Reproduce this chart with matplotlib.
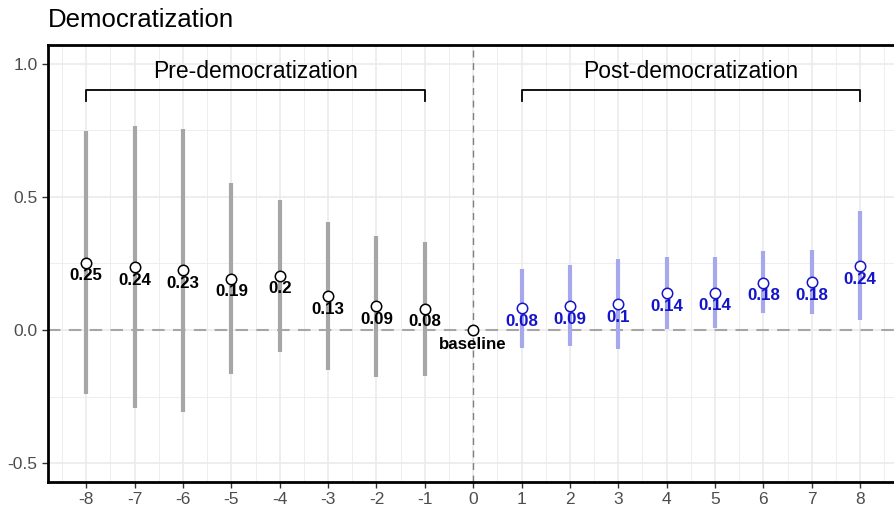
import matplotlib
matplotlib.use('Agg')
import matplotlib.pyplot as plt
import numpy as np

plt.rcParams['font.family'] = ['Liberation Sans', 'DejaVu Sans']

# ── data ──────────────────────────────────────────────────────────────────────
pre_t    = [-8, -7, -6, -5, -4, -3, -2, -1]
pre_est  = [0.253, 0.236, 0.225, 0.193, 0.204, 0.127, 0.089, 0.080]
pre_lo   = [-0.242, -0.292, -0.307, -0.167, -0.083, -0.152, -0.175, -0.172]
pre_hi   = [0.747, 0.764, 0.754, 0.552, 0.488, 0.404, 0.351, 0.329]
pre_lab  = ['0.25', '0.24', '0.23', '0.19', '0.2', '0.13', '0.09', '0.08']

post_t   = [1, 2, 3, 4, 5, 6, 7, 8]
post_est = [0.081, 0.090, 0.096, 0.138, 0.140, 0.178, 0.179, 0.240]
post_lo  = [-0.066, -0.060, -0.073, 0.003, 0.006, 0.062, 0.058, 0.037]
post_hi  = [0.230, 0.243, 0.265, 0.275, 0.273, 0.295, 0.300, 0.445]
post_lab = ['0.08', '0.09', '0.1', '0.14', '0.14', '0.18', '0.18', '0.24']

base_t, base_est = 0, 0.0

PRE_COL   = '#a6a6a6'
POST_BAR  = '#a7a7ec'
POST_COL  = '#1414c8'
GRID      = '#ebebeb'

# ── plot ──────────────────────────────────────────────────────────────────────
fig = plt.figure(figsize=(8.95, 5.09), dpi=100)
ax = fig.add_axes([48 / 895, 1 - 482 / 509, 1 - 48 / 895, 437 / 509])

# grid (ggplot-ish major + minor)
for x in np.arange(-8.5, 9, 1.0):
    ax.axvline(x, color=GRID, lw=0.6, zorder=0)
for x in range(-8, 9):
    ax.axvline(x, color=GRID, lw=1.2, zorder=0)
for y in [-0.25, 0.25, 0.75]:
    ax.axhline(y, color=GRID, lw=0.6, zorder=0)
for y in [-0.5, 0.0, 0.5, 1.0]:
    ax.axhline(y, color=GRID, lw=1.2, zorder=0)

# reference lines
ax.axhline(0, color='#a6a6a6', lw=1.5, ls=(0, (6, 4)), zorder=1)
ax.axvline(0, color='#808080', lw=1.0, ls=(0, (5, 4)), zorder=1)

# intervals
ax.vlines(pre_t, pre_lo, pre_hi, color=PRE_COL, lw=3.0, zorder=2)
ax.vlines(post_t, post_lo, post_hi, color=POST_BAR, lw=3.0, zorder=2)

# points
ax.plot(pre_t, pre_est, 'o', ms=7.5, mfc='white', mec='black', mew=1.1, zorder=3)
ax.plot(post_t, post_est, 'o', ms=7.5, mfc='white', mec=POST_COL, mew=1.1, zorder=3)
ax.plot([base_t], [base_est], 'o', ms=7.5, mfc='white', mec='black', mew=1.1, zorder=3)

# value labels
for t, e, s in zip(pre_t, pre_est, pre_lab):
    ax.annotate(s, (t, e), xytext=(0, -9.5), textcoords='offset points',
                ha='center', va='center', fontsize=12.2, fontweight='bold',
                color='black', zorder=4)
for t, e, s in zip(post_t, post_est, post_lab):
    ax.annotate(s, (t, e), xytext=(0, -9.5), textcoords='offset points',
                ha='center', va='center', fontsize=12.2, fontweight='bold',
                color=POST_COL, zorder=4)
ax.annotate('baseline', (base_t, base_est), xytext=(0, -10.5), textcoords='offset points',
            ha='center', va='center', fontsize=12.2, fontweight='bold', color='black', zorder=4)

# brackets
for a, b, name in [(-8, -1, 'Pre-democratization'), (1, 8, 'Post-democratization')]:
    ax.plot([a, a, b, b], [0.86, 0.9, 0.9, 0.86], color='black', lw=1.3, zorder=4)
    ax.text((a + b) / 2, 0.97, name, ha='center', va='center', fontsize=16.5, color='black')

ax.set_xlim(-8.79, 8.72)
ax.set_ylim(-0.571, 1.07)
ax.set_xticks(range(-8, 9))
ax.set_yticks([-0.5, 0.0, 0.5, 1.0])
ax.set_yticklabels(['-0.5', '0.0', '0.5', '1.0'])
ax.set_xticklabels([str(v) for v in range(-8, 9)])
ax.tick_params(colors='#333333', labelcolor='#4d4d4d', labelsize=12.5,
               length=4, width=1)

for side in ['left', 'top', 'bottom']:
    ax.spines[side].set_linewidth(2.0)
    ax.spines[side].set_color('black')
ax.spines['right'].set_visible(False)

fig.text(48 / 895, 1 - 20 / 509, 'Democratization', ha='left', va='center',
         fontsize=18.5, color='black')

fig.savefig('out.png', dpi=100)
